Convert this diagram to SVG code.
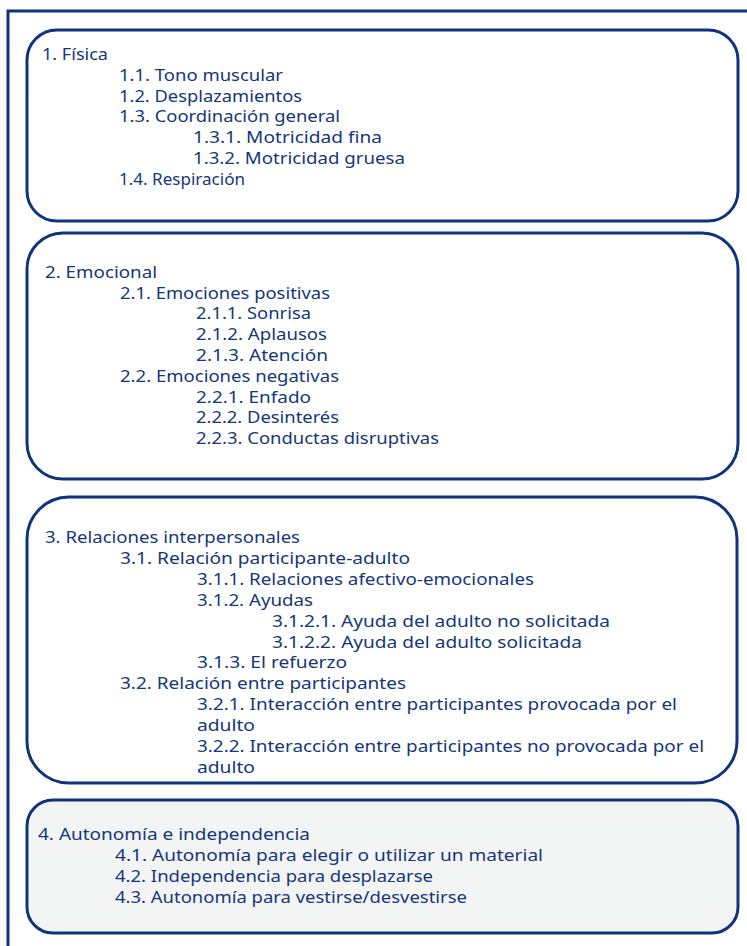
<svg xmlns="http://www.w3.org/2000/svg" width="747" height="946" viewBox="0 0 747 946">
<style>
.frame{fill:none;stroke:#0f3479;stroke-width:3}
.box{fill:#ffffff;stroke:#0f3479;stroke-width:3}
.box4{fill:#f3f4f4;stroke:#0f3479;stroke-width:3}
text{font-family:"Noto Sans","Open Sans",sans-serif;font-size:16px;fill:#15377a}
</style>
<rect x="0" y="0" width="747" height="946" fill="#ffffff"/>
<g id="frame"><path class="frame" d="M747 11 H8 V946"/></g>
<g id="connectors"></g>
<g id="box1">
<rect class="box" x="27" y="30" width="711" height="191" rx="30"/>
<text x="42" y="60" textLength="66" lengthAdjust="spacingAndGlyphs">1. Física</text>
<text x="119" y="81" textLength="164" lengthAdjust="spacingAndGlyphs">1.1. Tono muscular</text>
<text x="119" y="102" textLength="183" lengthAdjust="spacingAndGlyphs">1.2. Desplazamientos</text>
<text x="119" y="122" textLength="221" lengthAdjust="spacingAndGlyphs">1.3. Coordinación general</text>
<text x="193" y="143" textLength="189" lengthAdjust="spacingAndGlyphs">1.3.1. Motricidad fina</text>
<text x="193" y="164" textLength="212" lengthAdjust="spacingAndGlyphs">1.3.2. Motricidad gruesa</text>
<text x="119" y="185" textLength="126" lengthAdjust="spacingAndGlyphs">1.4. Respiración</text>
</g>
<g id="box2">
<rect class="box" x="27" y="233" width="711" height="246" rx="36"/>
<text x="45" y="278" textLength="112" lengthAdjust="spacingAndGlyphs">2. Emocional</text>
<text x="120" y="299" textLength="210" lengthAdjust="spacingAndGlyphs">2.1. Emociones positivas</text>
<text x="196" y="319" textLength="115" lengthAdjust="spacingAndGlyphs">2.1.1. Sonrisa</text>
<text x="196" y="340" textLength="131" lengthAdjust="spacingAndGlyphs">2.1.2. Aplausos</text>
<text x="196" y="361" textLength="132" lengthAdjust="spacingAndGlyphs">2.1.3. Atención</text>
<text x="120" y="382" textLength="219" lengthAdjust="spacingAndGlyphs">2.2. Emociones negativas</text>
<text x="196" y="403" textLength="115" lengthAdjust="spacingAndGlyphs">2.2.1. Enfado</text>
<text x="196" y="423" textLength="143" lengthAdjust="spacingAndGlyphs">2.2.2. Desinterés</text>
<text x="196" y="444" textLength="243" lengthAdjust="spacingAndGlyphs">2.2.3. Conductas disruptivas</text>
</g>
<g id="box3">
<rect class="box" x="27" y="497" width="710" height="286" rx="42"/>
<text x="45" y="543" textLength="255" lengthAdjust="spacingAndGlyphs">3. Relaciones interpersonales</text>
<text x="120" y="564" textLength="290" lengthAdjust="spacingAndGlyphs">3.1. Relación participante-adulto</text>
<text x="197" y="585" textLength="337" lengthAdjust="spacingAndGlyphs">3.1.1. Relaciones afectivo-emocionales</text>
<text x="197" y="606" textLength="116" lengthAdjust="spacingAndGlyphs">3.1.2. Ayudas</text>
<text x="272" y="627" textLength="338" lengthAdjust="spacingAndGlyphs">3.1.2.1. Ayuda del adulto no solicitada</text>
<text x="272" y="648" textLength="310" lengthAdjust="spacingAndGlyphs">3.1.2.2. Ayuda del adulto solicitada</text>
<text x="197" y="668" textLength="150" lengthAdjust="spacingAndGlyphs">3.1.3. El refuerzo</text>
<text x="120" y="689" textLength="286" lengthAdjust="spacingAndGlyphs">3.2. Relación entre participantes</text>
<text x="197" y="710" textLength="480" lengthAdjust="spacingAndGlyphs">3.2.1. Interacción entre participantes provocada por el</text>
<text x="197" y="731" textLength="58" lengthAdjust="spacingAndGlyphs">adulto</text>
<text x="197" y="752" textLength="507" lengthAdjust="spacingAndGlyphs">3.2.2. Interacción entre participantes no provocada por el</text>
<text x="197" y="773" textLength="58" lengthAdjust="spacingAndGlyphs">adulto</text>
</g>
<g id="box4">
<rect class="box4" x="27" y="800" width="711" height="133" rx="26"/>
<text x="38" y="840" textLength="272" lengthAdjust="spacingAndGlyphs">4. Autonomía e independencia</text>
<text x="115" y="861" textLength="428" lengthAdjust="spacingAndGlyphs">4.1. Autonomía para elegir o utilizar un material</text>
<text x="115" y="882" textLength="318" lengthAdjust="spacingAndGlyphs">4.2. Independencia para desplazarse</text>
<text x="115" y="903" textLength="352" lengthAdjust="spacingAndGlyphs">4.3. Autonomía para vestirse/desvestirse</text>
</g>
</svg>
